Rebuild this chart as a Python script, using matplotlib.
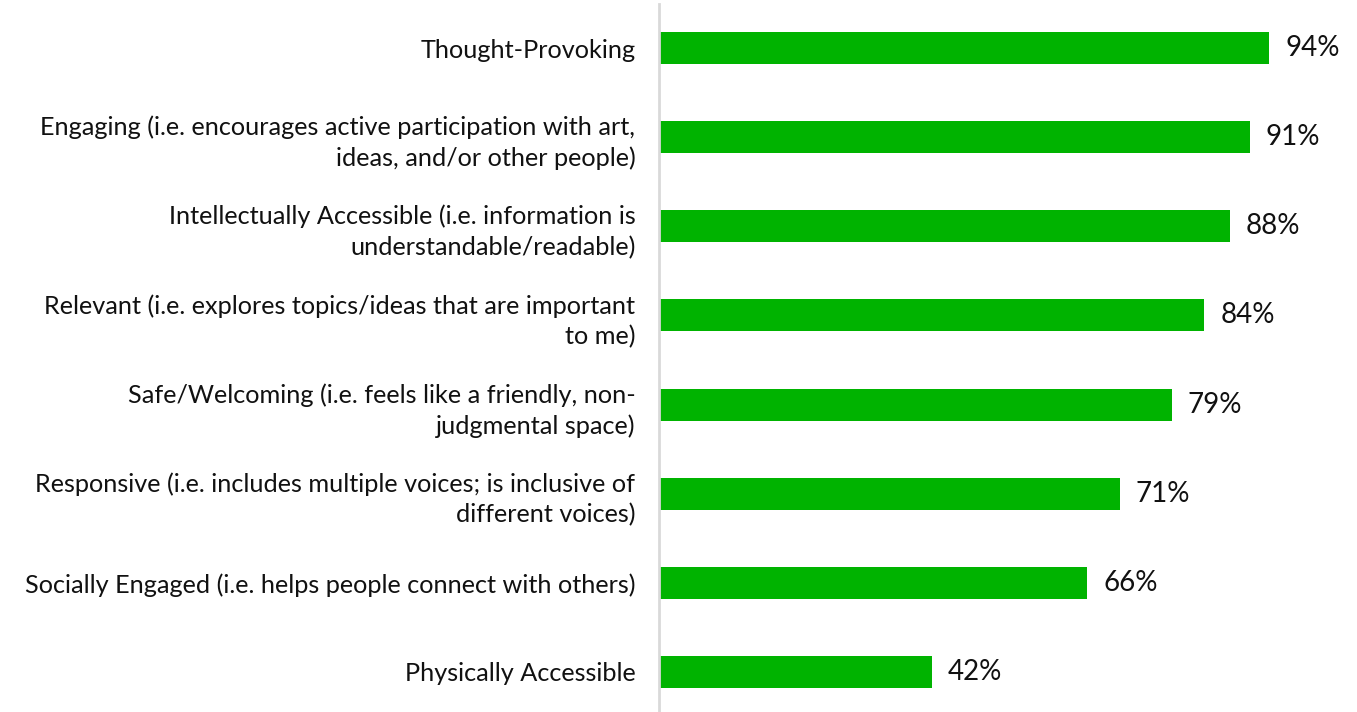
import matplotlib
matplotlib.use("Agg")
import matplotlib.pyplot as plt

categories = [
    "Thought-Provoking",
    "Engaging (i.e. encourages active participation with art,\nideas, and/or other people)",
    "Intellectually Accessible (i.e. information is\nunderstandable/readable)",
    "Relevant (i.e. explores topics/ideas that are important\nto me)",
    "Safe/Welcoming (i.e. feels like a friendly, non-\njudgmental space)",
    "Responsive (i.e. includes multiple voices; is inclusive of\ndifferent voices)",
    "Socially Engaged (i.e. helps people connect with others)",
    "Physically Accessible",
]
values = [94, 91, 88, 84, 79, 71, 66, 42]
value_labels = ["94%", "91%", "88%", "84%", "79%", "71%", "66%", "42%"]

plt.rcParams['font.family'] = ['Lato', 'DejaVu Sans']

W, H = 1357, 712
fig = plt.figure(figsize=(W / 100, H / 100), dpi=100)
ax = fig.add_axes([659 / W, (712 - 716.5) / H, 649 / W, 713 / H])

n = len(categories)
ypos = list(range(n - 1, -1, -1))
ax.barh(ypos, values, height=0.36, color="#00B300", edgecolor="none")
ax.set_xlim(0, 100)
ax.set_ylim(-0.5, n - 0.5)

ax.set_yticks(ypos)
ax.set_yticklabels(categories, fontsize=18.2, color="#111111", linespacing=1.38)
ax.tick_params(axis="y", length=0, pad=17)
ax.set_xticks([])

for s in ["top", "right", "bottom"]:
    ax.spines[s].set_visible(False)
ax.spines["left"].set_color("#D9D9D9")
ax.spines["left"].set_linewidth(2)

for y, v, lab in zip(ypos, values, value_labels):
    ax.annotate(lab, xy=(v, y), xytext=(16, 0), textcoords="offset pixels",
                va="center", ha="left", fontsize=20, color="#111111")

fig.savefig("out.png", dpi=100)
